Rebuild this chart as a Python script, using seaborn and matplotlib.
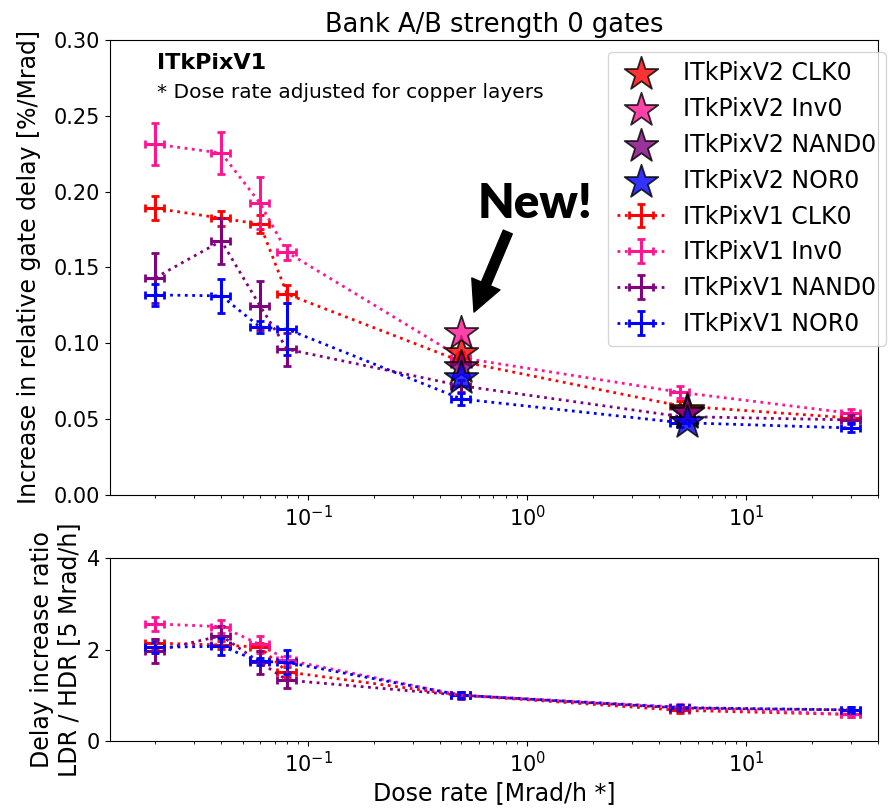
import numpy as np
import matplotlib
matplotlib.use("Agg")
import matplotlib.pyplot as plt
import seaborn as sns
import pandas as pd

# ---------------- data ----------------
dose_v1 = [0.02, 0.04, 0.06, 0.08, 0.5, 5.0, 30.0]
gates = ["CLK0", "Inv0", "NAND0", "NOR0"]
colors = ["red", "deeppink", "purple", "blue"]

v1_clk = [0.189, 0.1825, 0.1786, 0.1324, 0.088, 0.0587, 0.0508]
v1_inv = [0.2313, 0.2254, 0.1926, 0.160, 0.0904, 0.0677, 0.0539]
v1_nand = [0.1433, 0.1675, 0.1249, 0.0961, 0.072, 0.0517, 0.0495]
v1_nor = [0.1319, 0.1313, 0.1108, 0.1093, 0.0633, 0.0477, 0.0442]

e1_clk = [0.008, 0.005, 0.006, 0.006, 0.004, 0.003, 0.003]
e1_inv = [0.014, 0.014, 0.017, 0.005, 0.004, 0.004, 0.003]
e1_nand = [0.0165, 0.015, 0.016, 0.011, 0.004, 0.003, 0.003]
e1_nor = [0.007, 0.011, 0.004, 0.017, 0.004, 0.003, 0.003]

r_clk = [2.14, 2.10, 2.05, 1.51, 1.0, 0.67, 0.58]
r_inv = [2.56, 2.50, 2.11, 1.77, 1.0, 0.74, 0.58]
r_nand = [1.97, 2.30, 1.72, 1.33, 1.0, 0.72, 0.68]
r_nor = [2.05, 2.07, 1.74, 1.72, 1.0, 0.73, 0.68]

re_clk = [0.10, 0.08, 0.09, 0.10, 0.07, 0.06, 0.06]
re_inv = [0.15, 0.15, 0.18, 0.08, 0.07, 0.06, 0.06]
re_nand = [0.26, 0.22, 0.25, 0.17, 0.08, 0.06, 0.06]
re_nor = [0.12, 0.18, 0.08, 0.26, 0.07, 0.06, 0.06]

dose_v2 = [0.5, 5.35]
v2_clk = [0.0935, 0.056]
v2_inv = [0.107, 0.055]
v2_nand = [0.0846, 0.054]
v2_nor = [0.077, 0.0484]

xerr_frac = 0.1

v1_vals = [v1_clk, v1_inv, v1_nand, v1_nor]
v1_errs = [e1_clk, e1_inv, e1_nand, e1_nor]
r_vals = [r_clk, r_inv, r_nand, r_nor]
r_errs = [re_clk, re_inv, re_nand, re_nor]
v2_vals = [v2_clk, v2_inv, v2_nand, v2_nor]

# ---------------- figure ----------------
fig = plt.figure(figsize=(8.89, 8.08), dpi=100)
ax = fig.add_axes([0.1237, 0.3874, 0.8639, 0.5631])
ax2 = fig.add_axes([0.1237, 0.0829, 0.8639, 0.2265])

FS = 15
LFS = 17
x_v1 = np.array(dose_v1)
xe = x_v1 * xerr_frac

# V2 stars
for g, c, vals in zip(gates, colors, v2_vals):
    df = pd.DataFrame({"dose": dose_v2, "val": vals})
    sns.scatterplot(data=df, x="dose", y="val", ax=ax, marker="*", s=650,
                    color=c, alpha=0.8, edgecolor="black", linewidth=1.3,
                    label=f"ITkPixV2 {g}", legend=False, zorder=5)

# V1 errorbars
for g, c, vals, errs in zip(gates, colors, v1_vals, v1_errs):
    ax.errorbar(x_v1, vals, yerr=errs, xerr=xe, fmt=":", color=c, lw=2,
                elinewidth=2.2, capsize=3, capthick=2,
                label=f"ITkPixV1 {g}")

for g, c, vals, errs in zip(gates, colors, r_vals, r_errs):
    ax2.errorbar(x_v1, vals, yerr=errs, xerr=xe, fmt=":", color=c, lw=2,
                 elinewidth=2.2, capsize=3, capthick=2)

for a in (ax, ax2):
    a.set_xscale("log")
    a.set_xlim(0.0124, 40)
    a.tick_params(labelsize=FS)

ax.set_ylim(0, 0.30)
ax.set_yticks([0, 0.05, 0.10, 0.15, 0.20, 0.25, 0.30])
ax.set_yticklabels(["0.00", "0.05", "0.10", "0.15", "0.20", "0.25", "0.30"])
ax2.set_ylim(0, 4)
ax2.set_yticks([0, 2, 4])

ax.set_title("Bank A/B strength 0 gates", fontsize=18.5)
ax.set_xlabel("")
ax.set_ylabel("Increase in relative gate delay [%/Mrad]", fontsize=LFS,
              labelpad=9)
ax2.set_ylabel("Delay increase ratio\nLDR / HDR [5 Mrad/h]", fontsize=LFS)
ax2.set_xlabel("Dose rate [Mrad/h *]", fontsize=LFS)

ax.text(0.061, 0.949, "ITkPixV1", transform=ax.transAxes, fontsize=16,
        fontweight="bold", va="center", ha="left")
ax.text(0.061, 0.885, "* Dose rate adjusted for copper layers",
        transform=ax.transAxes, fontsize=14.5, va="center", ha="left")

ax.annotate("", xy=(0.474, 0.402), xytext=(0.518, 0.578),
            xycoords="axes fraction", textcoords="axes fraction",
            arrowprops=dict(facecolor="black", edgecolor="black", width=7,
                            headwidth=22, headlength=22, shrink=0))
ax.text(0.553, 0.640, "New!", transform=ax.transAxes, fontsize=34,
        family="Lato", fontweight="heavy", ha="center", va="center")

ax.legend(loc="upper right", fontsize=LFS, markerscale=1.0,
          handlelength=2.0, borderaxespad=0,
          bbox_to_anchor=(1.0104, 0.9736))

fig.savefig("out.png", dpi=100)
